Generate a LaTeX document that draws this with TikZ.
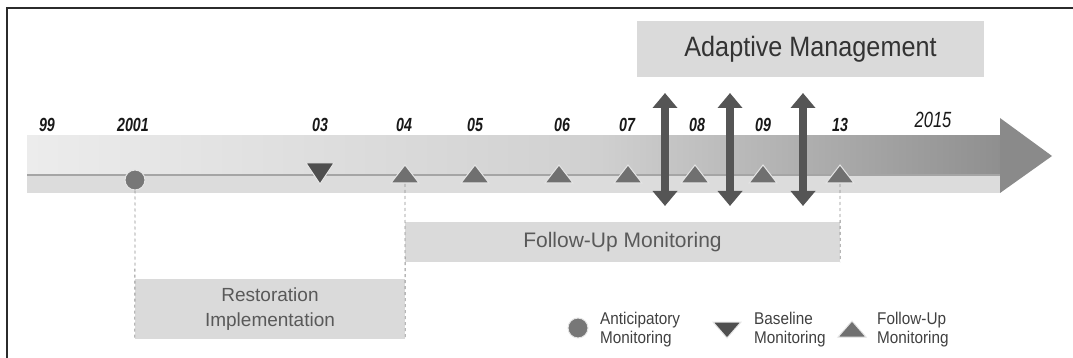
\documentclass[tikz,border=0pt]{standalone}
\usepackage{fontspec}
\setmainfont{Liberation Sans}
\newfontfamily\yearfont[FakeStretch=0.75]{Liberation Sans}
\newfontfamily\narrowfont[FakeStretch=0.9]{Liberation Sans}
\usetikzlibrary{arrows.meta}
\definecolor{framegray}{HTML}{2B2B2B}
\definecolor{bandlight}{HTML}{ECECEC}
\definecolor{bandmid}{HTML}{D0D0D0}
\definecolor{banddark}{HTML}{8F8F8F}
\definecolor{stripgray}{HTML}{DCDCDC}
\definecolor{axisgray}{HTML}{A5A5A5}
\definecolor{headgray}{HTML}{8A8A8A}
\definecolor{boxgray}{HTML}{DADADA}
\definecolor{upgray}{HTML}{707070}
\definecolor{downgray}{HTML}{4F4F4F}
\definecolor{dotgray}{HTML}{777777}
\definecolor{arrowgray}{HTML}{555555}
\definecolor{guidegray}{HTML}{8F8F8F}
\tikzset{
  year/.style={font=\yearfont\bfseries\itshape\fontsize{19}{22}\selectfont, text=black!90, anchor=base},
  box/.style={fill=boxgray, inner sep=0},
  upmark/.style={fill=upgray, draw=white!90!black, line width=1},
  downmark/.style={fill=downgray, draw=white!90!black, line width=1},
  dotmark/.style={circle, fill=dotgray, draw=white!90!black, line width=1, minimum size=20, inner sep=0},
  twoway/.style={{Triangle[width=24pt,length=15pt]}-{Triangle[width=24pt,length=15pt]}, line width=8, draw=arrowgray},
  guide/.style={draw=guidegray, dashed, line width=0.8},
  legendtext/.style={font=\narrowfont\fontsize{17}{19}\selectfont, text=black!75, align=left, anchor=west, inner sep=0}
}
\begin{document}
\begin{tikzpicture}[x=1pt, y=-1pt]
    \useasboundingbox (0,0) rectangle (1073,358);
    \draw[framegray, line width=2] (6.5,358) -- (6.5,8) -- (1073,8);
    \shade[left color=bandlight, right color=bandmid] (27,136) rectangle (600,176);
    \shade[left color=bandmid, right color=banddark] (599,136) rectangle (1001,176);
    \fill[stripgray] (27,176) rectangle (1001,193);
    \fill[headgray] (1000,118) -- (1052,156) -- (1000,193) -- cycle;
    \draw[axisgray, line width=2] (27,175) -- (1000,175);
    \node (adapt) at (810.5,49) [box, minimum width=347, minimum height=56, font=\narrowfont\fontsize{28}{32}\selectfont, text=black!80]{Adaptive Management};
    \node (followbox) at (622.5,242) [box, minimum width=435, minimum height=40, font=\fontsize{21}{24}\selectfont, text=black!65]{Follow-Up Monitoring};
    \node (restbox) at (270,309) [box, minimum width=270, minimum height=60, align=center, font=\fontsize{19}{25}\selectfont, text=black!65]{Restoration\\Implementation};
    \node (y99) at (47,132) [year]{99};
    \node (y01) at (133,132) [year]{2001};
    \node (y03) at (320,132) [year]{03};
    \node (y04) at (404,132) [year]{04};
    \node (y05) at (475,132) [year]{05};
    \node (y06) at (562,132) [year]{06};
    \node (y07) at (627,132) [year]{07};
    \node (y08) at (697,132) [year]{08};
    \node (y09) at (763,132) [year]{09};
    \node (y13) at (840,132) [year]{13};
    \node (y15) at (933,128) [year, font=\yearfont\itshape\fontsize{22}{24}\selectfont]{2015};
    \node (m01) at (135,180) [dotmark]{};
    \fill[downmark] (306,163) -- (334,163) -- (320,184) -- cycle;
    \fill[upmark] (391,183) -- (405,165) -- (419,183) -- cycle;
    \fill[upmark] (461,183) -- (475,165) -- (489,183) -- cycle;
    \fill[upmark] (545,183) -- (559,165) -- (573,183) -- cycle;
    \fill[upmark] (614,183) -- (628,165) -- (642,183) -- cycle;
    \fill[upmark] (681,183) -- (695,165) -- (709,183) -- cycle;
    \fill[upmark] (749,183) -- (763,165) -- (777,183) -- cycle;
    \fill[upmark] (826,183) -- (840,165) -- (854,183) -- cycle;
    \coordinate (m04) at (405,184);
    \coordinate (m13) at (840,184);
    \coordinate (a1t) at (665,93);
    \coordinate (a1b) at (665,206);
    \coordinate (a2t) at (730,93);
    \coordinate (a2b) at (730,206);
    \coordinate (a3t) at (803,93);
    \coordinate (a3b) at (803,206);
    \draw[twoway] (a1t) -- (a1b);
    \draw[twoway] (a2t) -- (a2b);
    \draw[twoway] (a3t) -- (a3b);
    \draw[guide] (m01.south) -- (restbox.south west);
    \draw[guide] (m04) -- (restbox.south east);
    \draw[guide] (m13) -- (followbox.south east);
    \node (lg1) at (578,328) [dotmark]{};
    \node (lt1) at (600,330) [legendtext]{Anticipatory\\Monitoring};
    \fill[downmark] (713,322) -- (741,322) -- (727,338) -- cycle;
    \node (lt2) at (754,330) [legendtext]{Baseline\\Monitoring};
    \fill[upmark] (838,337) -- (852,321) -- (866,337) -- cycle;
    \node (lt3) at (877,330) [legendtext]{Follow-Up\\Monitoring};
  \end{tikzpicture}
\end{document}
